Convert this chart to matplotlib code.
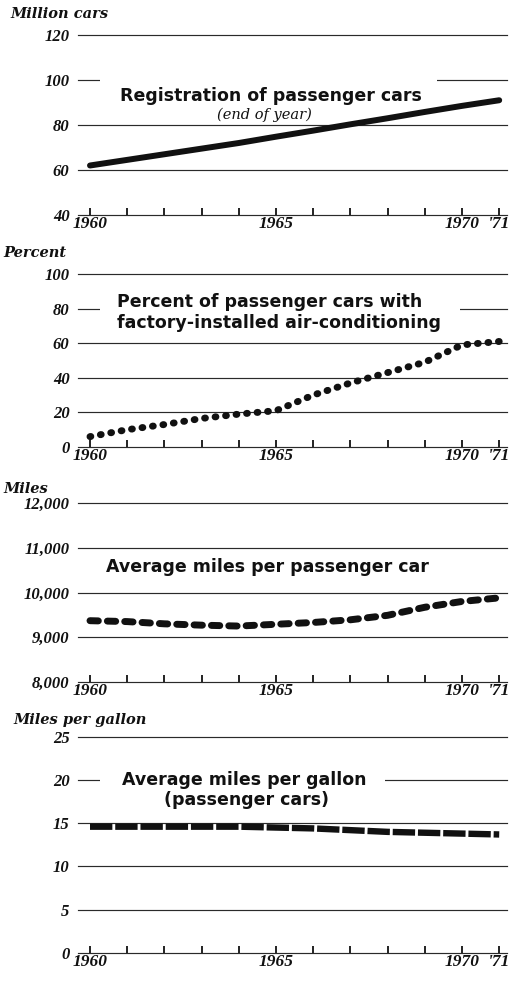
import matplotlib
matplotlib.use("Agg")
import matplotlib.pyplot as plt
from matplotlib.patches import Rectangle

# ---------------- data ----------------
years = list(range(1960, 1972))
year_labels = ["1960", "", "", "", "", "1965", "", "", "", "", "1970", "'71"]

registrations = [62.0, 64.5, 67.0, 69.5, 72.0, 74.8, 77.5, 80.3, 83.0, 85.8, 88.5, 91.0]
ac_percent = [6, 10, 13, 16.5, 19, 21, 30, 37, 43, 49, 59, 61]
miles_per_car = [9370, 9350, 9300, 9270, 9250, 9290, 9330, 9390, 9490, 9670, 9800, 9880]
mpg = [14.6, 14.6, 14.6, 14.6, 14.6, 14.5, 14.4, 14.2, 14.0, 13.9, 13.8, 13.7]

reg_ticks = [40, 60, 80, 100, 120]
ac_ticks = [0, 20, 40, 60, 80, 100]
miles_ticks = [8000, 9000, 10000, 11000, 12000]
miles_tick_labels = ["8,000", "9,000", "10,000", "11,000", "12,000"]
mpg_ticks = [0, 5, 10, 15, 20, 25]

# ---------------- layout ----------------
W, H = 523, 983
fig = plt.figure(figsize=(W / 100, H / 100), dpi=100)
fig.patch.set_facecolor("white")

X0, X1 = 78, 507            # gridline extent in pixels
TICK0, STEP = 90, 37.2      # pixel of 1960 and pixels per year
xlim = (1960 - (TICK0 - X0) / STEP, 1960 + (X1 - TICK0) / STEP)

num_font = dict(family="Liberation Serif", weight="bold", style="italic", size=12)
year_font = dict(family="Liberation Serif", weight="bold", style="italic", size=12.5)
head_font = dict(family="DejaVu Serif", weight="bold", style="italic", size=10.5)
title_font = dict(family="DejaVu Sans", weight="bold", size=12.5)
INK = "#111111"
GRID = "#2a2a2a"


def fx(px):
    return px / W


def fy(py):
    return 1 - py / H


def make_panel(ybot, ytop, lo, hi, ticks, tick_labels):
    ax = fig.add_axes([fx(X0), fy(ybot), (X1 - X0) / W, (ybot - ytop) / H])
    ax.set_xlim(*xlim)
    ax.set_ylim(lo, hi)
    ax.set_facecolor("none")
    for s in ax.spines.values():
        s.set_visible(False)
    ax.set_yticks(ticks)
    ax.set_yticklabels(tick_labels, **num_font)
    ax.set_xticks(years)
    ax.set_xticklabels(year_labels, **year_font)
    ax.tick_params(axis="y", length=0, pad=6, colors=INK)
    ax.tick_params(axis="x", direction="in", length=5, width=1.3, pad=1, colors=INK)
    ax.grid(axis="y", color=GRID, lw=0.85)
    ax.grid(axis="x", visible=False)
    for gl in ax.get_ygridlines():
        gl.set_clip_on(False)
    return ax


def white_box(ax, x0, y0, x1, y1):
    r = Rectangle((fx(x0), fy(y1)), (x1 - x0) / W, (y1 - y0) / H,
                  transform=fig.transFigure, facecolor="white", edgecolor="none",
                  zorder=1.8, clip_on=False)
    ax.add_patch(r)


# ---- Panel 1: registrations ----
ax1 = make_panel(215, 35, 40, 120, reg_ticks, [str(t) for t in reg_ticks])
white_box(ax1, 100, 76, 437, 108)
ax1.plot(years, registrations, color=INK, lw=4.3, solid_capstyle="round", zorder=3)
fig.text(fx(10), fy(14), "Million cars", va="center", ha="left", color=INK, **head_font)
fig.text(fx(271), fy(96), "Registration of passenger cars", ha="center", va="center",
         color=INK, **title_font)
fig.text(fx(264), fy(115), "(end of year)", ha="center", va="center", color=INK,
         family="DejaVu Serif", style="italic", size=10.5)

# ---- Panel 2: air conditioning ----
ax2 = make_panel(447, 274, 0, 100, ac_ticks, [str(t) for t in ac_ticks])
white_box(ax2, 100, 292, 460, 334)
ax2.plot(years, ac_percent, color=INK, lw=5.0, linestyle=(0, (0.12, 1.4)),
         dash_capstyle="round", zorder=3)
fig.text(fx(3), fy(253), "Percent", va="center", ha="left", color=INK, **head_font)
fig.text(fx(117), fy(302), "Percent of passenger cars with", ha="left", va="center",
         color=INK, **title_font)
fig.text(fx(117), fy(323), "factory-installed air-conditioning", ha="left", va="center",
         color=INK, **title_font)

# ---- Panel 3: miles per car ----
ax3 = make_panel(682, 503, 8000, 12000, miles_ticks, miles_tick_labels)
ax3.plot(years, miles_per_car, color=INK, lw=5.0, linestyle=(0, (1.2, 1.3)),
         dash_capstyle="round", zorder=3)
fig.text(fx(3), fy(489), "Miles", va="center", ha="left", color=INK, **head_font)
fig.text(fx(267), fy(567), "Average miles per passenger car", ha="center", va="center",
         color=INK, **title_font)

# ---- Panel 4: miles per gallon ----
ax4 = make_panel(953, 736.7, 0, 25, mpg_ticks, [str(t) for t in mpg_ticks])
white_box(ax4, 100, 768, 385, 812)
ax4.plot(years, mpg, color=INK, lw=4.6, linestyle=(0, (3.5, 0.45)),
         dash_capstyle="butt", zorder=3)
fig.text(fx(13), fy(720), "Miles per gallon", va="center", ha="left", color=INK, **head_font)
fig.text(fx(244), fy(780), "Average miles per gallon", ha="center", va="center",
         color=INK, **title_font)
fig.text(fx(247), fy(800), "(passenger cars)", ha="center", va="center",
         color=INK, **title_font)

fig.savefig("out.png", dpi=100, facecolor="white")
